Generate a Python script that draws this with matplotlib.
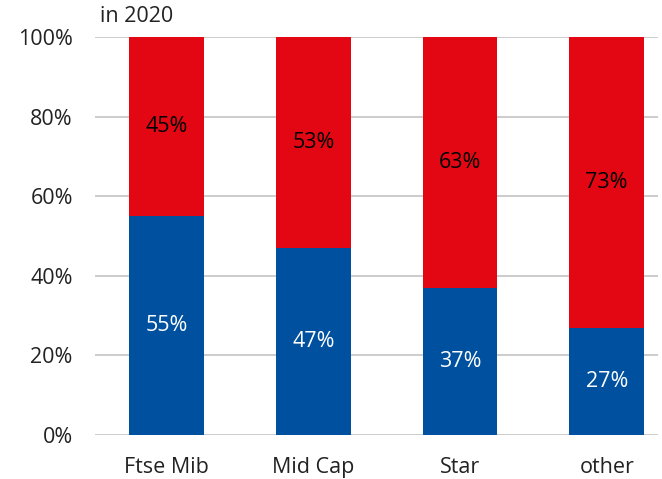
import matplotlib.pyplot as plt
import numpy as np
from matplotlib.ticker import FuncFormatter

categories = ['Ftse Mib', 'Mid Cap', 'Star', 'other']
blue_share = [55, 47, 37, 27]
red_share = [45, 53, 63, 73]

BLUE = '#0050A0'
RED = '#E30613'
FS = 15.5

plt.rcParams['font.family'] = ['Open Sans', 'DejaVu Sans']

fig = plt.figure(figsize=(6.62, 4.79), dpi=100)
ax = fig.add_axes([0.1435, 0.0919, 0.8505, 0.8309])

x = np.arange(len(categories))
w = 0.51
ax.bar(x, blue_share, w, color=BLUE, zorder=3)
ax.bar(x, red_share, w, bottom=blue_share, color=RED, zorder=3)

for xi, b, r in zip(x, blue_share, red_share):
    ax.text(xi, b / 2, f'{b}%', ha='center', va='center', color='white', fontsize=FS, zorder=4)
    ax.text(xi, b + r / 2, f'{r}%', ha='center', va='center', color='black', fontsize=FS, zorder=4)

ax.set_ylim(0, 100)
ax.set_xlim(-0.49, 3.35)
ax.set_yticks(range(0, 101, 20))
ax.yaxis.set_major_formatter(FuncFormatter(lambda v, p: f'{v:.0f}%'))
ax.set_xticks(x)
ax.set_xticklabels(categories)
ax.grid(axis='y', color='#C4C4C4', linewidth=1.2, zorder=0)
for s in ax.spines.values():
    s.set_visible(False)
ax.tick_params(length=0, labelsize=FS, colors='#222222')
ax.tick_params(axis='y', pad=16)
ax.tick_params(axis='x', pad=16)

fig.text(0.151, 0.965, 'in 2020', fontsize=FS, color='#222222', ha='left', va='center')

fig.savefig('out.png', dpi=100)
